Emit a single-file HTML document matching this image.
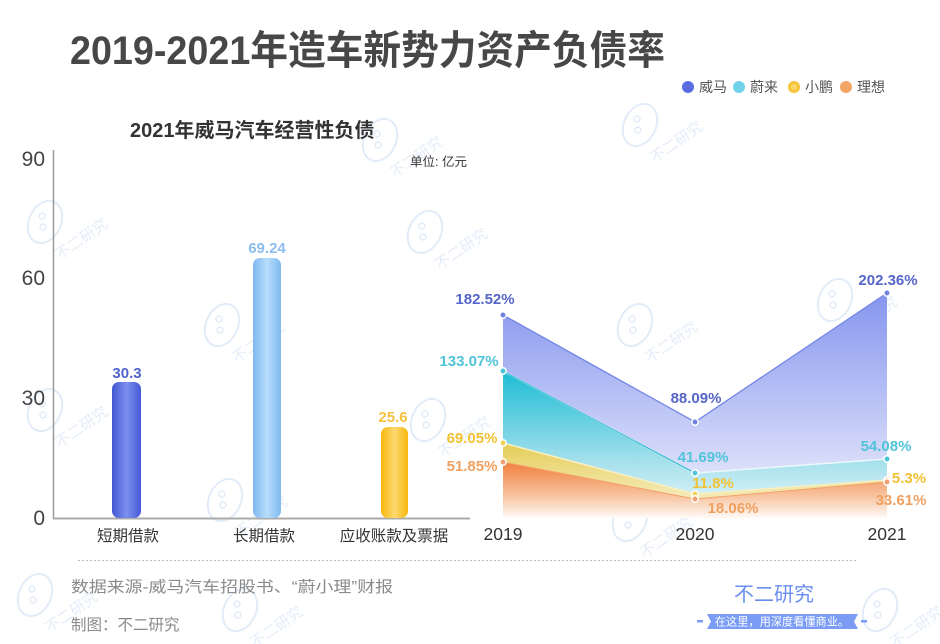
<!DOCTYPE html>
<html>
<head>
<meta charset="utf-8">
<style>
  html,body{margin:0;padding:0;background:#fff;}
  svg{display:block;}
  text{font-family:"Liberation Sans","Noto Sans CJK SC",sans-serif;}
</style>
</head>
<body>
<svg width="940" height="644" viewBox="0 0 940 644" xmlns="http://www.w3.org/2000/svg">
  <defs>
    <linearGradient id="b1" x1="0" x2="1" y1="0" y2="0">
      <stop offset="0" stop-color="#4256d4"/>
      <stop offset="0.5" stop-color="#7d90ef"/>
      <stop offset="1" stop-color="#4459d6"/>
    </linearGradient>
    <linearGradient id="b2" x1="0" x2="1" y1="0" y2="0">
      <stop offset="0" stop-color="#7db8f2"/>
      <stop offset="0.5" stop-color="#b9dcfb"/>
      <stop offset="1" stop-color="#80bbf3"/>
    </linearGradient>
    <linearGradient id="b3" x1="0" x2="1" y1="0" y2="0">
      <stop offset="0" stop-color="#f8b80c"/>
      <stop offset="0.5" stop-color="#fcd870"/>
      <stop offset="1" stop-color="#f8b90e"/>
    </linearGradient>
    <linearGradient id="gW" gradientUnits="userSpaceOnUse" x1="0" y1="293" x2="0" y2="520">
      <stop offset="0" stop-color="#8595ee"/>
      <stop offset="0.55" stop-color="#c2c9f6"/>
      <stop offset="1" stop-color="#f3f4fd"/>
    </linearGradient>
    <linearGradient id="gN" gradientUnits="userSpaceOnUse" x1="0" y1="371" x2="0" y2="520">
      <stop offset="0" stop-color="#1cbbd4"/>
      <stop offset="0.65" stop-color="#aee3ee"/>
      <stop offset="1" stop-color="#f2fbfc"/>
    </linearGradient>
    <linearGradient id="gX" gradientUnits="userSpaceOnUse" x1="0" y1="443" x2="0" y2="520">
      <stop offset="0" stop-color="#e4cc55"/>
      <stop offset="1" stop-color="#fcf7e2"/>
    </linearGradient>
    <linearGradient id="gL" gradientUnits="userSpaceOnUse" x1="0" y1="462" x2="0" y2="520">
      <stop offset="0" stop-color="#f07f3e"/>
      <stop offset="0.6" stop-color="#f8c6a2"/>
      <stop offset="1" stop-color="#ffffff"/>
    </linearGradient>
    <g id="wm">
      <ellipse cx="0" cy="0" rx="16" ry="22" transform="rotate(25)" fill="none" stroke="#e2ecf8" stroke-width="2"/>
      <circle cx="-3" cy="-6" r="3" fill="none" stroke="#e2ecf8" stroke-width="1.5"/>
      <circle cx="-2" cy="5" r="3" fill="none" stroke="#e2ecf8" stroke-width="1.5"/>
      <text x="-10" y="40" font-size="15" fill="#e4edf9" transform="rotate(-35)">不二研究</text>
    </g>
  </defs>

  <!-- watermarks -->
  <use href="#wm" x="45" y="222"/>
  <use href="#wm" x="222" y="325"/>
  <use href="#wm" x="45" y="410"/>
  <use href="#wm" x="225" y="500"/>
  <use href="#wm" x="425" y="232"/>
  <use href="#wm" x="428" y="420"/>
  <use href="#wm" x="640" y="125"/>
  <use href="#wm" x="635" y="325"/>
  <use href="#wm" x="835" y="300"/>
  <use href="#wm" x="630" y="520"/>
  <use href="#wm" x="35" y="595"/>
  <use href="#wm" x="240" y="610"/>
  <use href="#wm" x="880" y="610"/>
  <use href="#wm" x="380" y="140"/>

  <!-- title -->
  <text x="70" y="64" font-size="40" font-weight="bold" fill="#474747" textLength="595" lengthAdjust="spacingAndGlyphs">2019-2021年造车新势力资产负债率</text>

  <!-- legend -->
  <circle cx="688" cy="87" r="6" fill="#5a6de0"/>
  <text x="699" y="92" font-size="14" fill="#555">威马</text>
  <circle cx="739" cy="87" r="6" fill="#72d2ea"/>
  <text x="750" y="92" font-size="14" fill="#555">蔚来</text>
  <circle cx="794" cy="87" r="6" fill="#f6c43a"/>
  <circle cx="794" cy="87" r="3" fill="#f9d66e"/>
  <text x="805" y="92" font-size="14" fill="#555">小鹏</text>
  <circle cx="846" cy="87" r="6" fill="#f3a566"/>
  <text x="857" y="92" font-size="14" fill="#555">理想</text>

  <!-- bar chart -->
  <text x="130" y="137" font-size="20" font-weight="bold" fill="#333">2021年威马汽车经营性负债</text>
  <text x="410" y="166" font-size="12.5" fill="#333">单位: 亿元</text>

  <line x1="53.5" y1="150" x2="53.5" y2="519" stroke="#9a9a9a" stroke-width="1.5"/>
  <line x1="53" y1="518.5" x2="470" y2="518.5" stroke="#ababab" stroke-width="2"/>

  <text x="45" y="166" font-size="21" fill="#444" text-anchor="end">90</text>
  <text x="45" y="285" font-size="21" fill="#444" text-anchor="end">60</text>
  <text x="45" y="405" font-size="21" fill="#444" text-anchor="end">30</text>
  <text x="45" y="525" font-size="21" fill="#444" text-anchor="end">0</text>

  <rect x="112" y="382" width="29" height="136" rx="7" fill="url(#b1)"/>
  <rect x="253" y="258" width="28" height="260" rx="7" fill="url(#b2)"/>
  <rect x="381" y="427" width="27" height="91" rx="7" fill="url(#b3)"/>

  <text x="127" y="378" font-size="15" font-weight="bold" fill="#5163cc" text-anchor="middle">30.3</text>
  <text x="267" y="253" font-size="15" font-weight="bold" fill="#8dbdee" text-anchor="middle">69.24</text>
  <text x="393" y="422" font-size="15" font-weight="bold" fill="#f5c23e" text-anchor="middle">25.6</text>

  <text x="128" y="541" font-size="15.5" fill="#333" text-anchor="middle">短期借款</text>
  <text x="264" y="541" font-size="15.5" fill="#333" text-anchor="middle">长期借款</text>
  <text x="394" y="541" font-size="15.5" fill="#333" text-anchor="middle">应收账款及票据</text>

  <!-- area chart -->
  <path d="M503,315 L695,422 L887,293 L887,518 L503,518 Z" fill="url(#gW)"/>
  <path d="M503,371 L695,473 L887,459 L887,518 L503,518 Z" fill="url(#gN)"/>
  <path d="M503,443 L695,494 L887,480 L887,518 L503,518 Z" fill="url(#gX)"/>
  <path d="M503,462 L695,499 L887,482 L887,518 L503,518 Z" fill="url(#gL)"/>

  <polyline points="503,315 695,422 887,293" fill="none" stroke="#7385e6" stroke-width="1.3"/>
  <polyline points="503,371 695,473 887,459" fill="none" stroke="#e9f8fb" stroke-width="1.6"/>
  <polyline points="503,371 695,473" fill="none" stroke="#2eb8d0" stroke-width="1"/>
  <polyline points="503,443 695,494 887,480" fill="none" stroke="#f7efc2" stroke-width="1.5"/>
  <polyline points="503,462 695,499 887,482" fill="none" stroke="#f3a06a" stroke-width="1"/>

  <g stroke="#fff" stroke-width="1.5">
    <circle cx="503" cy="315" r="3.2" fill="#6f82dd"/>
    <circle cx="695" cy="422" r="3.2" fill="#6f82dd"/>
    <circle cx="887" cy="293" r="3.2" fill="#6f82dd"/>
    <circle cx="503" cy="371" r="3.2" fill="#4cc4dc"/>
    <circle cx="695" cy="473" r="3.2" fill="#4cc4dc"/>
    <circle cx="887" cy="459" r="3.2" fill="#4cc4dc"/>
    <circle cx="503" cy="443" r="3.2" fill="#f2d15a"/>
    <circle cx="695" cy="494" r="3.2" fill="#f2d15a"/>
    <circle cx="887" cy="480" r="3.2" fill="#f2d15a"/>
    <circle cx="503" cy="462" r="3.2" fill="#f0a070"/>
    <circle cx="695" cy="499" r="3.2" fill="#f0a070"/>
    <circle cx="887" cy="482" r="3.2" fill="#f0a070"/>
  </g>

  <g font-size="15" font-weight="bold" text-anchor="middle">
    <text x="485" y="304" fill="#5565c8">182.52%</text>
    <text x="469" y="366" fill="#50c4da">133.07%</text>
    <text x="472" y="443" fill="#f2c234">69.05%</text>
    <text x="472" y="471" fill="#f0a060">51.85%</text>
    <text x="696" y="403" fill="#5565c8">88.09%</text>
    <text x="703" y="462" fill="#50c4da">41.69%</text>
    <text x="713" y="488" fill="#f2c234">11.8%</text>
    <text x="733" y="513" fill="#f0a060">18.06%</text>
    <text x="888" y="285" fill="#5565c8">202.36%</text>
    <text x="886" y="451" fill="#50c4da">54.08%</text>
    <text x="909" y="483" fill="#f2c234">5.3%</text>
    <text x="901" y="505" fill="#f0a060">33.61%</text>
  </g>

  <text x="503" y="540" font-size="17.5" fill="#333" text-anchor="middle">2019</text>
  <text x="695" y="540" font-size="17.5" fill="#333" text-anchor="middle">2020</text>
  <text x="887" y="540" font-size="17.5" fill="#333" text-anchor="middle">2021</text>

  <!-- footer -->
  <line x1="78" y1="560.5" x2="858" y2="560.5" stroke="#bdbdbd" stroke-width="1" stroke-dasharray="2,2"/>
  <text x="71" y="592" font-size="15.5" fill="#8a8a8a" textLength="322" lengthAdjust="spacingAndGlyphs">数据来源-威马汽车招股书、“蔚小理”财报</text>
  <text x="71" y="630" font-size="15.5" fill="#8a8a8a">制图：不二研究</text>

  <!-- logo -->
  <text x="774" y="601" font-size="20" fill="#6a8ef0" text-anchor="middle">不二研究</text>
  <path d="M707,614 L858,614 L854,621.5 L858,629 L707,629 L711,621.5 Z" fill="#7b9cf4"/>
  <rect x="697" y="620" width="6" height="2.5" fill="#7b9cf4"/>
  <rect x="861" y="620" width="6" height="2.5" fill="#7b9cf4"/>
  <text x="782" y="625.5" font-size="11.2" fill="#ffffff" text-anchor="middle">在这里，用深度看懂商业。</text>
</svg>
</body>
</html>
